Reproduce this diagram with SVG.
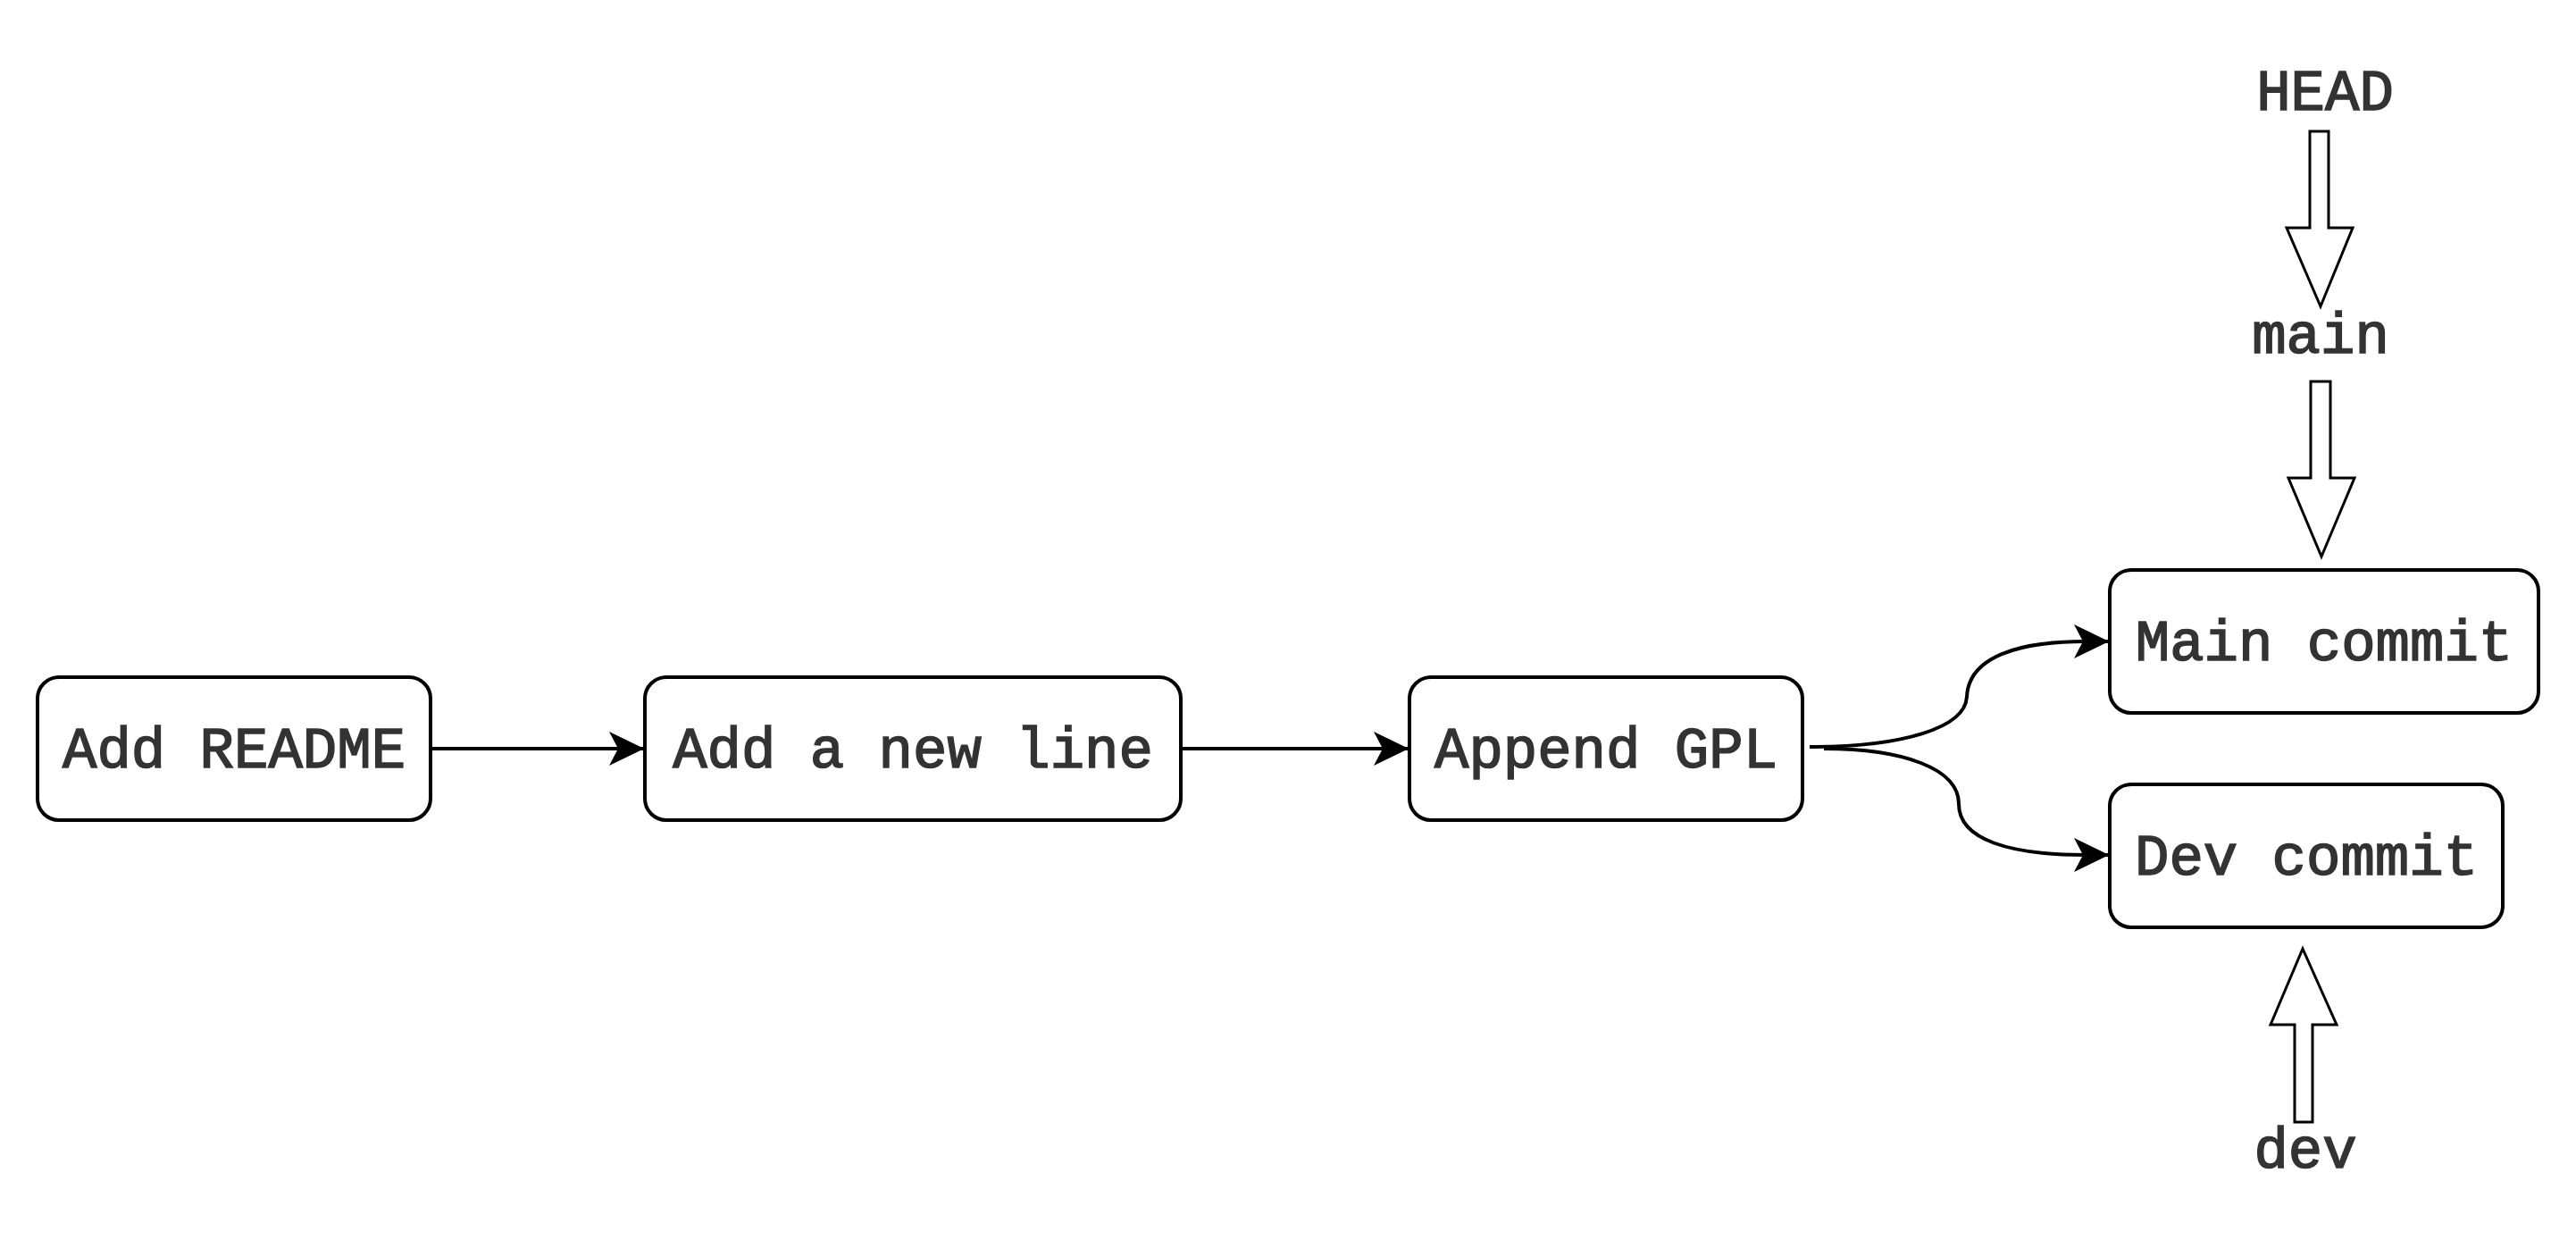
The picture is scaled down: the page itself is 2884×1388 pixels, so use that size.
<svg xmlns="http://www.w3.org/2000/svg" width="2884" height="1388" viewBox="0 0 2884 1388">
  <style>
    .box { fill: #ffffff; stroke: #000000; stroke-width: 4; }
    .lbl { font-family: "Liberation Mono", "Courier New", monospace; font-size: 64px; font-weight: normal; fill: #333333; text-anchor: middle; stroke: #333333; stroke-width: 1.6; }
    .edge { fill: none; stroke: #000000; stroke-width: 4; }
    .blk { fill: #ffffff; stroke: #000000; stroke-width: 3; stroke-linejoin: miter; }
  </style>
  <defs>
    <marker id="arr" markerUnits="userSpaceOnUse" markerWidth="40" markerHeight="40" viewBox="-36 -18 38 36" refX="0" refY="0" orient="auto">
      <path d="M 0 0 L -35 -17 L -26 0 L -35 17 Z" fill="#000000" stroke="#000000" stroke-width="1"/>
    </marker>
  </defs>
  <rect width="2884" height="1388" fill="#ffffff"/>

  <g id="connectors">
    <path class="edge" d="M 482 838 L 720 838" marker-end="url(#arr)"/>
    <path class="edge" d="M 1322 838 L 1576 838" marker-end="url(#arr)"/>
    <path class="edge" d="M 2026 836 C 2130 836, 2200 815, 2202 780 C 2204 735, 2260 718, 2335 718 L 2360 718" marker-end="url(#arr)"/>
    <path class="edge" d="M 2042 838 C 2130 838, 2193 860, 2193 900 C 2193 940, 2250 957, 2335 957 L 2360 957" marker-end="url(#arr)"/>
  </g>

  <g id="node-add-readme">
    <rect class="box" x="42" y="758" width="440" height="160" rx="24" ry="24"/>
    <text class="lbl" x="262" y="859">Add README</text>
  </g>
  <g id="node-add-new-line">
    <rect class="box" x="722" y="758" width="600" height="160" rx="24" ry="24"/>
    <text class="lbl" x="1022" y="859">Add a new line</text>
  </g>
  <g id="node-append-gpl">
    <rect class="box" x="1578" y="758" width="440" height="160" rx="24" ry="24"/>
    <text class="lbl" x="1798" y="859">Append GPL</text>
  </g>
  <g id="node-main-commit">
    <rect class="box" x="2362" y="638" width="480" height="160" rx="24" ry="24"/>
    <text class="lbl" x="2602" y="739">Main commit</text>
  </g>
  <g id="node-dev-commit">
    <rect class="box" x="2362" y="878" width="440" height="160" rx="24" ry="24"/>
    <text class="lbl" x="2582" y="979">Dev commit</text>
  </g>

  <g id="label-head">
    <text class="lbl" x="2603" y="123">HEAD</text>
  </g>
  <g id="arrow-head-main">
    <polygon class="blk" points="2586,147 2607,147 2607,255 2634,255 2598,343 2560,255 2586,255"/>
  </g>
  <g id="label-main">
    <text class="lbl" x="2598" y="395">main</text>
  </g>
  <g id="arrow-main-commit">
    <polygon class="blk" points="2587,427 2609,427 2609,535 2636,535 2599,623 2562,535 2587,535"/>
  </g>
  <g id="arrow-dev-commit">
    <polygon class="blk" points="2569,1256 2589,1256 2589,1147 2616,1147 2578,1062 2542,1147 2569,1147"/>
  </g>
  <g id="label-dev">
    <text class="lbl" x="2581" y="1307">dev</text>
  </g>
</svg>
